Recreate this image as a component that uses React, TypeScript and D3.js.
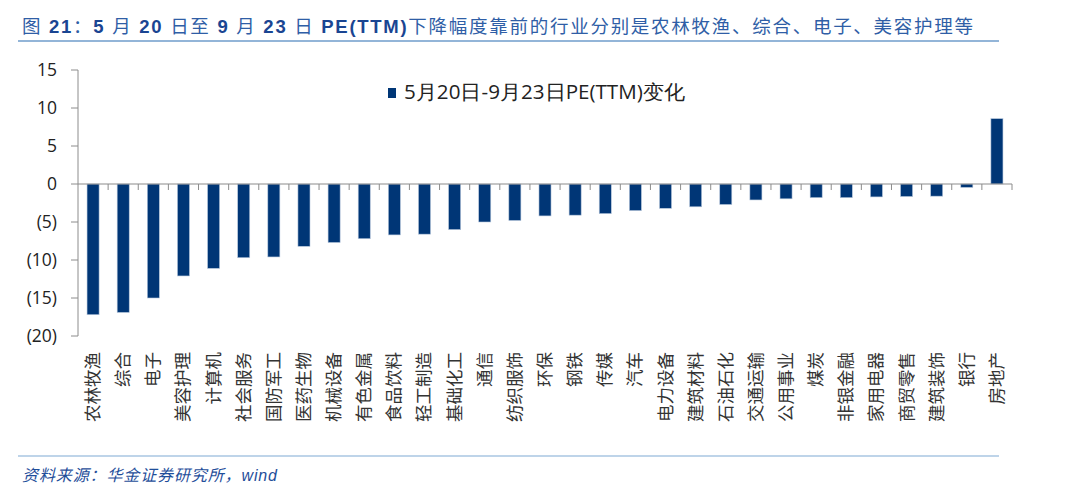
import React from "react";
import * as d3 from "d3";

const categories = [
  "农林牧渔", "综合", "电子", "美容护理", "计算机", "社会服务", "国防军工", "医药生物",
  "机械设备", "有色金属", "食品饮料", "轻工制造", "基础化工", "通信", "纺织服饰", "环保",
  "钢铁", "传媒", "汽车", "电力设备", "建筑材料", "石油石化", "交通运输", "公用事业",
  "煤炭", "非银金融", "家用电器", "商贸零售", "建筑装饰", "银行", "房地产",
];
const values = [
  -17.2, -16.9, -15.0, -12.1, -11.1, -9.7, -9.6, -8.2,
  -7.7, -7.2, -6.7, -6.6, -6.0, -5.0, -4.8, -4.2,
  -4.1, -3.9, -3.5, -3.2, -3.0, -2.7, -2.1, -1.95,
  -1.8, -1.8, -1.7, -1.65, -1.6, -0.45, 8.6,
];
const yTicks = [15, 10, 5, 0, -5, -10, -15, -20];
const seriesName = "5月20日-9月23日PE(TTM)变化";
const titleParts: [string, boolean][] = [
  ["图 ", false], ["21", true], ["：", false], ["5", true], [" 月 ", false], ["20", true],
  [" 日至 ", false], ["9", true], [" 月 ", false], ["23", true], [" 日 ", false], ["PE(TTM)", true],
  ["下降幅度靠前的行业分别是农林牧渔、综合、电子、美容护理等", false],
];
const source = "资料来源：华金证券研究所，wind";

const W = 1080;
const H = 492;
const plotLeft = 78;
const plotRight = 1012;
const plotTop = 70;
const plotBottom = 336;

const fmt = (v: number) => (v < 0 ? `(${Math.abs(v)})` : `${v}`);

export default function App() {
  const x = d3.scaleBand<string>().domain(categories).range([plotLeft, plotRight]).paddingInner(0.6).paddingOuter(0.3);
  const xb = d3.scaleBand<string>().domain(categories).range([plotLeft, plotRight]);
  const y = d3.scaleLinear().domain([-20, 15]).range([plotBottom, plotTop]);
  const y0 = y(0);
  const blue = "#003676";
  const axisColor = "#8c8c8c";
  const cjk = "'Noto Sans CJK SC', 'Noto Sans', sans-serif";
  const num = "'Open Sans', 'Liberation Sans', sans-serif";

  return (
    <svg width={W} height={H} style={{ position: "absolute", left: 0, top: 0, background: "#fff" }}>
      <rect x={0} y={0} width={W} height={H} fill="#fff" />
      {/* Title */}
      <text x={22} y={33} fontFamily={"'Liberation Sans', 'Noto Sans CJK SC', sans-serif"} fontSize={18.5} fill="#1f4e9a" textLength={951} lengthAdjust="spacing">
        {titleParts.map(([s, b], i) => (
          <tspan key={i} fontWeight={b ? 700 : 400} fill={b ? "#1a4592" : "#2f5ea6"}>{s}</tspan>
        ))}
      </text>
      <line x1={18} x2={999} y1={41} y2={41} stroke="#6f9ccb" strokeWidth={1.3} />

      {/* Y axis */}
      <line x1={plotLeft} x2={plotLeft} y1={plotTop} y2={plotBottom} stroke={axisColor} strokeWidth={1} />
      {yTicks.map((t) => (
        <g key={t}>
          <line x1={plotLeft - 7} x2={plotLeft} y1={y(t)} y2={y(t)} stroke={axisColor} />
          <text x={57} y={y(t)} dy="0.35em" textAnchor="end" fontFamily={num} fontSize={17.5} fill="#222">
            {fmt(t)}
          </text>
        </g>
      ))}

      {/* Bars */}
      {categories.map((c, i) => {
        const v = values[i];
        const top = Math.min(y(v), y0);
        const h = Math.abs(y(v) - y0);
        return (
          <rect key={c} x={x(c)} y={top} width={x.bandwidth()} height={h} fill={blue} stroke="#b8c8dd" strokeWidth={0.6} />
        );
      })}

      {/* X axis */}
      <line x1={plotLeft} x2={plotRight} y1={y0} y2={y0} stroke={axisColor} strokeWidth={1.2} />
      {categories.map((c) => (
        <line key={"t" + c} x1={(xb(c) as number) + xb.bandwidth()} x2={(xb(c) as number) + xb.bandwidth()} y1={y0} y2={y0 + 6} stroke={axisColor} />
      ))}

      {/* X labels */}
      {categories.map((c) => {
        const cx = (xb(c) as number) + xb.bandwidth() / 2;
        return (
          <text key={"l" + c} transform={`translate(${cx + 6},352) rotate(-90)`} textAnchor="end" fontFamily={cjk} fontSize={17.5} fill="#333">
            {c}
          </text>
        );
      })}

      {/* Legend */}
      <rect x={388} y={88} width={8} height={10} fill={blue} />
      <text x={404} y={99} fontFamily={num} fontSize={19.5} fill="#222" textLength={281} lengthAdjust="spacingAndGlyphs">
        {seriesName}
      </text>

      {/* Footer */}
      <line x1={18} x2={999} y1={456} y2={456} stroke="#a9c6e2" strokeWidth={1.3} />
      <text x={22} y={481} fontFamily={"'Liberation Sans', 'Noto Sans CJK SC', sans-serif"} fontSize={16} fontStyle="italic" fill="#1f4e9a" textLength={255} lengthAdjust="spacing">
        {source}
      </text>
    </svg>
  );
}
